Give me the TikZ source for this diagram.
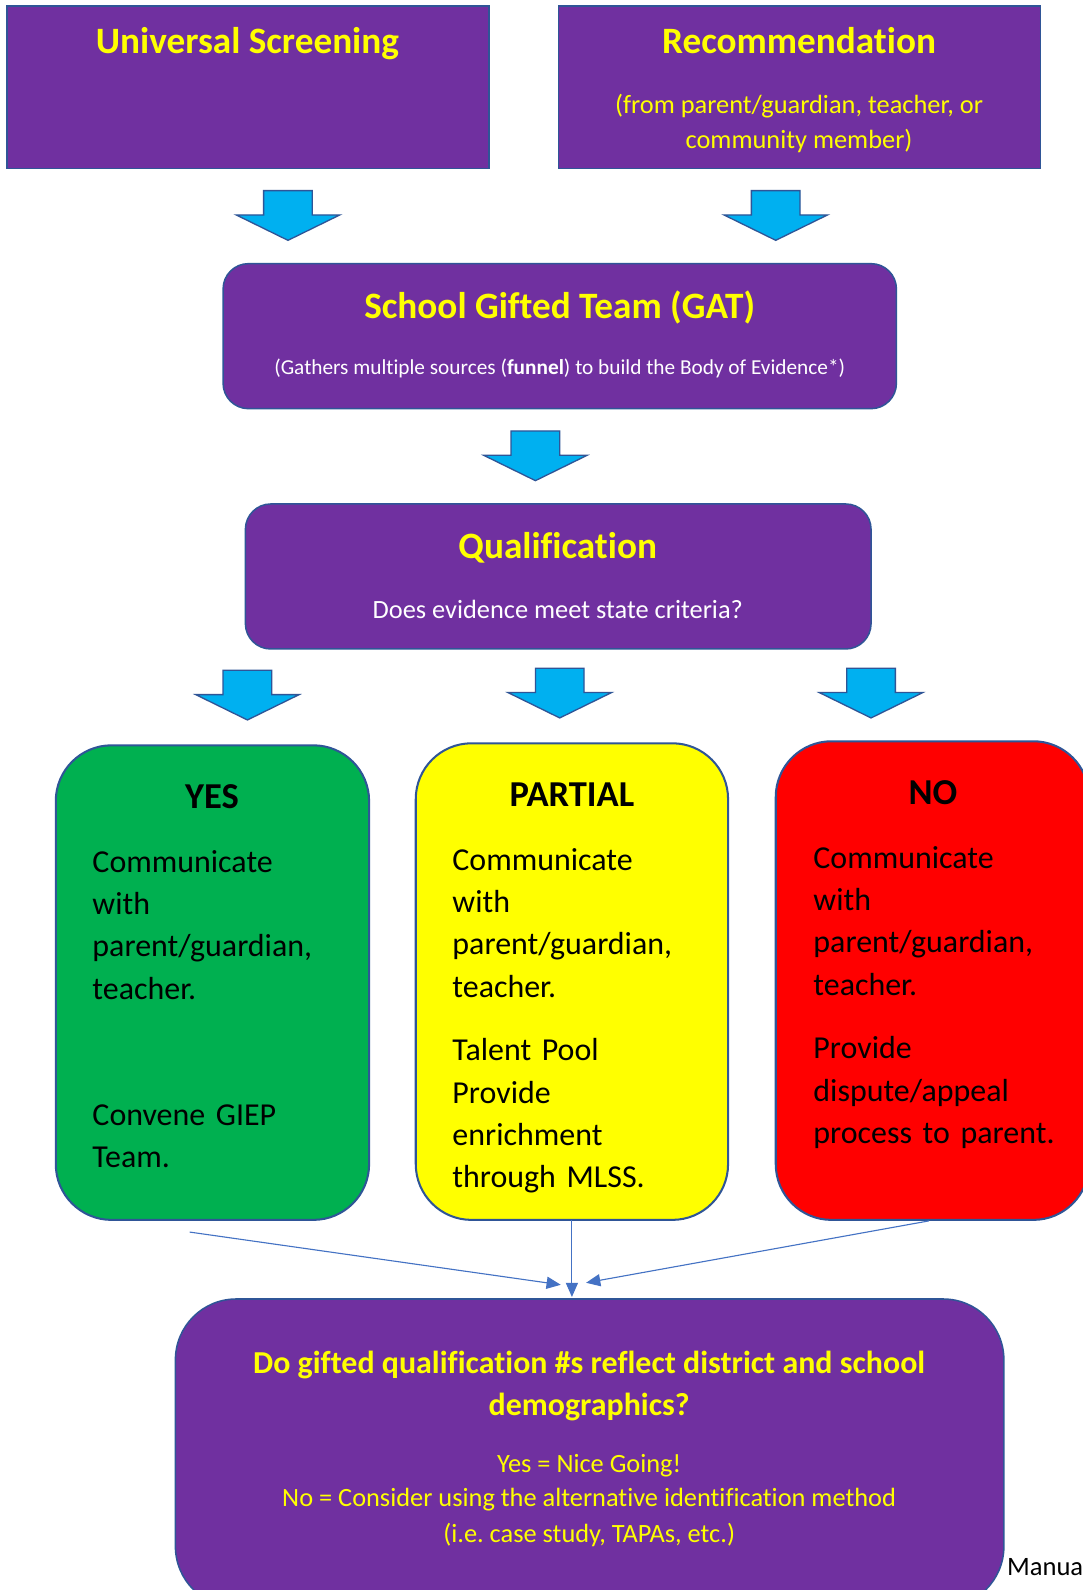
\documentclass[tikz,border=0pt]{standalone}
\usepackage{fontspec}
\setmainfont{Carlito}[Ligatures={NoCommon,NoRare}]
\usetikzlibrary{arrows.meta}
\definecolor{purp}{HTML}{7030A0}
\definecolor{ylw}{HTML}{FFFF00}
\definecolor{bord}{HTML}{2F5597}
\definecolor{arrfill}{HTML}{00B0F0}
\definecolor{connc}{HTML}{4472C4}
\definecolor{grn}{HTML}{00B050}
\definecolor{rd}{HTML}{FF0000}
\frenchspacing
\tikzset{
  sqbox/.style={draw=bord, line width=1.5pt, fill=purp, inner sep=0pt, outer sep=0pt},
  rbox/.style={sqbox, rounded corners=25pt},
  cbox/.style={draw=bord, line width=2pt, rounded corners=55pt, inner sep=0pt, outer sep=0pt},
  ttl/.style={anchor=base, text=ylw, inner sep=0pt, font=\fontsize{36.7}{44}\selectfont\bfseries},
  sub/.style={anchor=base, text=ylw, inner sep=0pt, font=\fontsize{26}{32}\selectfont},
  btitle/.style={anchor=base, text=black, inner sep=0pt, font=\fontsize{36}{44}\selectfont\bfseries},
  body/.style={anchor=base west, text width=280pt, align=left, inner sep=0pt, text=black, font=\fontsize{31.5}{41.8}\selectfont},
  connline/.style={draw=connc, line width=1.1pt, -{Triangle[length=14pt,width=12pt]}},
  downarr/.pic={\path[draw=bord, fill=arrfill, line width=1.3pt, line join=miter]
     (-24,0) -- (24,0) -- (24,24) -- (51,24) -- (0,49) -- (-51,24) -- (-24,24) -- cycle;}
}
\begin{document}
\begin{tikzpicture}[x=1pt,y=-1pt]
\path[use as bounding box, clip] (0,0) rectangle (1068,1568);
\fill[white] (0,0) rectangle (1068,1568);

% top boxes
\node[sqbox, minimum width=475pt, minimum height=160pt] (us) at (244.5,86) {};
\node[ttl] (ust) at (244,53) {Universal Screening};
\node[sqbox, minimum width=475pt, minimum height=160pt] (rec) at (788.5,86) {};
\node[ttl] (rect) at (788,53) {Recommendation};
\node[sub] (recs1) at (788,112) {(from parent/guardian, teacher, or};
\node[sub] (recs2) at (788,146) {community member)};

\pic at (284,188) {downarr};
\pic at (765,188) {downarr};

% GAT
\node[rbox, minimum width=664pt, minimum height=143pt] (gat) at (552,331.5) {};
\node[ttl] (gatt) at (552,314) {School Gifted Team (GAT)};
\node[anchor=base, text=white, inner sep=0pt, font=\fontsize{21}{25}\selectfont] (gats) at (552,369)
  {(Gathers multiple sources (\textbf{funnel}) to build the Body of Evidence*)};

\pic at (528,425) {downarr};

% Qualification
\node[rbox, minimum width=617pt, minimum height=143pt] (qual) at (550.5,568.5) {};
\node[ttl] (qualt) at (550,551) {Qualification};
\node[anchor=base, text=white, inner sep=0pt, font=\fontsize{26}{32}\selectfont] (quals) at (550,610)
  {Does evidence meet state criteria?};

\pic at (244,661) {downarr};
\pic at (552,659) {downarr};
\pic at (859,659) {downarr};

% YES
\node[cbox, fill=grn, minimum width=309pt, minimum height=468pt] (yes) at (209.5,969) {};
\node[btitle] (yest) at (209,797) {YES};
\node[body] (yesb1) at (91,860) {Communicate\\with\\parent/guardian,\\teacher.};
\node[body] (yesb2) at (91,1110) {Convene GIEP\\Team.};

% PARTIAL
\node[cbox, fill=ylw, minimum width=308pt, minimum height=470pt] (partial) at (564,968) {};
\node[btitle] (partt) at (564,795) {PARTIAL};
\node[body] (partb1) at (446,858) {Communicate\\with\\parent/guardian,\\teacher.};
\node[body] (partb2) at (446,1046) {Talent Pool\\Provide\\enrichment\\through MLSS.};

% NO
\node[cbox, fill=rd, minimum width=309pt, minimum height=472pt] (no) at (919.5,967) {};
\node[btitle] (not) at (920,793) {NO};
\node[body] (nob1) at (802,856) {Communicate\\with\\parent/guardian,\\teacher.};
\node[body] (nob2) at (802,1044) {Provide\\dispute/appeal\\process to parent.};

% connectors
\coordinate (yfoot) at (187,1215);
\coordinate (tipL) at (553,1267);
\coordinate (tipM) at (564,1279);
\coordinate (tipR) at (578,1265);
\draw[connline] (yfoot) -- (tipL);
\draw[connline] (partial.south) -- (tipM);
\draw[connline] (916,1204) -- (tipR);

% footer text (partly hidden, as in the reference)
\node[anchor=base west, inner sep=0pt, text=black, font=\fontsize{26.2}{32}\selectfont] (manual) at (993,1554) {Manual};

% bottom box
\node[sqbox, rounded corners=60pt, minimum width=817pt, minimum height=304pt] (demo) at (581.5,1433) {};
\node[anchor=base, text=ylw, inner sep=0pt, font=\fontsize{31.5}{42}\selectfont\bfseries] (demot1) at (581,1354)
  {Do gifted qualification \#s reflect district and school};
\node[anchor=base, text=ylw, inner sep=0pt, font=\fontsize{31.5}{42}\selectfont\bfseries] (demot2) at (581,1396)
  {demographics?};
\node[sub] (demo1) at (581,1452) {Yes = Nice Going!};
\node[sub] (demo2) at (581,1486) {No = Consider using the alternative identification method};
\node[sub] (demo3) at (581,1521) {(i.e. case study, TAPAs, etc.)};
\end{tikzpicture}
\end{document}
